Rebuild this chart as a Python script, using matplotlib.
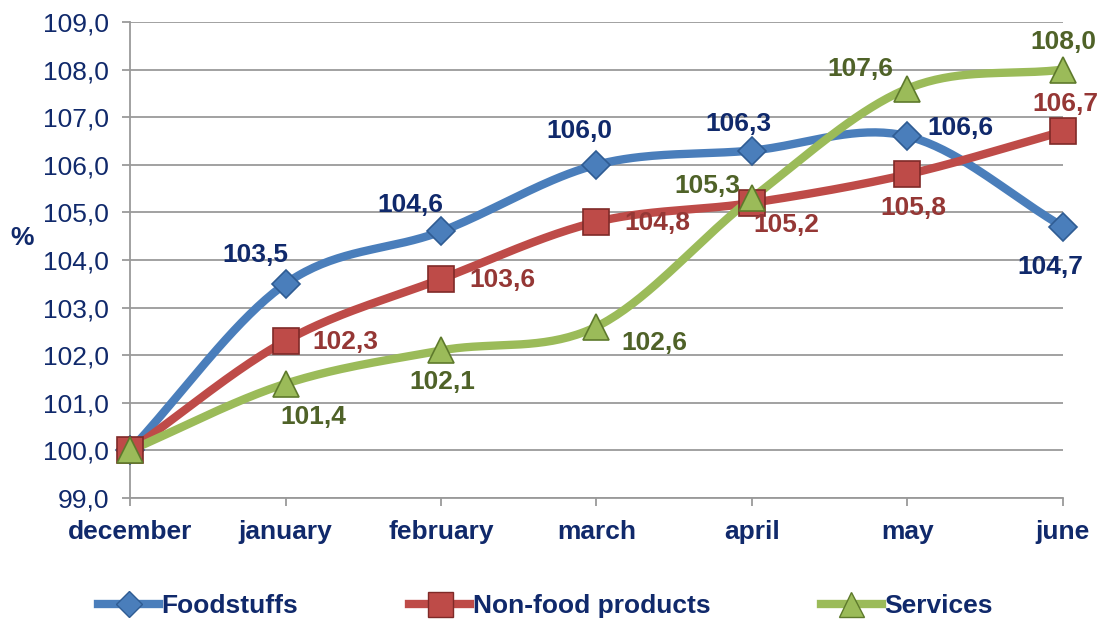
import numpy as np
import matplotlib
matplotlib.use("Agg")
import matplotlib.pyplot as plt
from matplotlib.lines import Line2D

plt.rcParams['font.family'] = ['Liberation Sans', 'DejaVu Sans']

months = ["december", "january", "february", "march", "april", "may", "june"]
foodstuffs = [100.0, 103.5, 104.6, 106.0, 106.3, 106.6, 104.7]
nonfood = [100.0, 102.3, 103.6, 104.8, 105.2, 105.8, 106.7]
services = [100.0, 101.4, 102.1, 102.6, 105.3, 107.6, 108.0]
series_names = ["Foodstuffs", "Non-food products", "Services"]
y_ticks = [99, 100, 101, 102, 103, 104, 105, 106, 107, 108, 109]

# label offsets (points) for each point, None = no label
food_off = [None, (-22, 21), (-22, 19), (-12, 24), (-10, 19), (38, 6), (-9, -29)]
nonfood_off = [None, (43, -1), (44, -1), (44, -1), (25, -16), (4, -24), (2, 20)]
serv_off = [None, (20, -24), (1, -23), (42, -12), (-32, 9), (-34, 14), (0, 20)]

NAVY = "#10296B"
FS = 19

def catmull(xs, ys, n=40):
    xs = np.asarray(xs, float); ys = np.asarray(ys, float)
    px = np.concatenate([[2 * xs[0] - xs[1]], xs, [2 * xs[-1] - xs[-2]]])
    py = np.concatenate([[2 * ys[0] - ys[1]], ys, [2 * ys[-1] - ys[-2]]])
    ox, oy = [], []
    for i in range(1, len(px) - 2):
        p0, p1, p2, p3 = (np.array([px[j], py[j]]) for j in (i - 1, i, i + 1, i + 2))
        c1 = p1 + (p2 - p0) / 6.0
        c2 = p2 - (p3 - p1) / 6.0
        t = np.linspace(0, 1, n)[:, None]
        b = ((1 - t) ** 3) * p1 + 3 * ((1 - t) ** 2) * t * c1 + 3 * (1 - t) * t ** 2 * c2 + t ** 3 * p2
        ox.extend(b[:, 0]); oy.extend(b[:, 1])
    return np.array(ox), np.array(oy)

fig = plt.figure(figsize=(10.99, 6.21), dpi=100)
ax = fig.add_axes([0.1183, 0.198, 0.8489, 0.7666])

x = np.arange(len(months))
specs = [
    (foodstuffs, "#4A7EBB", "D", 14, "#2F5C93", NAVY, food_off),
    (nonfood, "#BE4B48", "s", 19, "#7F2A28", "#953735", nonfood_off),
    (services, "#9BBB59", "^", 19, "#5E7A2C", "#4F6228", serv_off),
]
handles = []
for (vals, col, mk, ms, ec, tc, offs), name in zip(specs, series_names):
    sx, sy = catmull(x, vals)
    ax.plot(sx, sy, color=col, lw=6, solid_capstyle='round', zorder=3, clip_on=False)
    ax.plot(x, vals, linestyle='none', marker=mk, markersize=ms, markerfacecolor=col,
            markeredgecolor=ec, markeredgewidth=1.2, zorder=4, clip_on=False)
    for xi, v, off in zip(x, vals, offs):
        if off is None:
            continue
        ax.annotate(f"{v:.1f}".replace(".", ","), (xi, v), xytext=off, textcoords='offset points',
                    ha='center', va='center', fontsize=FS, fontweight='bold', color=tc, zorder=5,
                    annotation_clip=False)
    handles.append(Line2D([], [], color=col, lw=6, marker=mk, markersize=ms - 1,
                          markerfacecolor=col, markeredgecolor=ec, label=name))

ax.set_xlim(0, 6)
ax.set_ylim(99, 109)
ax.set_yticks(y_ticks)
ax.set_yticklabels([f"{t:.1f}".replace(".", ",") for t in y_ticks], fontsize=FS, color=NAVY)
ax.set_xticks(x)
ax.set_xticklabels(months, fontsize=FS, fontweight='bold', color=NAVY)
ax.grid(axis='y', color='#9A9A9A', lw=1.3)
ax.set_axisbelow(True)
for s in ['top', 'right']:
    ax.spines[s].set_visible(False)
for s in ['left', 'bottom']:
    ax.spines[s].set_color('#9A9A9A')
    ax.spines[s].set_linewidth(1.3)
ax.tick_params(axis='both', color='#9A9A9A', width=1.3, length=6)
ax.tick_params(axis='y', pad=9)
ax.tick_params(axis='x', pad=10)

fig.text(0.02, 0.617, "%", fontsize=FS, fontweight='bold', color=NAVY, ha='center', va='center')

fig.legend(handles=handles, loc='center', bbox_to_anchor=(0.4965, 0.024), ncol=3, frameon=False,
           prop={'size': FS, 'weight': 'bold'}, labelcolor=NAVY, handlelength=2.3,
           handletextpad=0.1, columnspacing=4.2)

fig.savefig("out.png", dpi=100)
